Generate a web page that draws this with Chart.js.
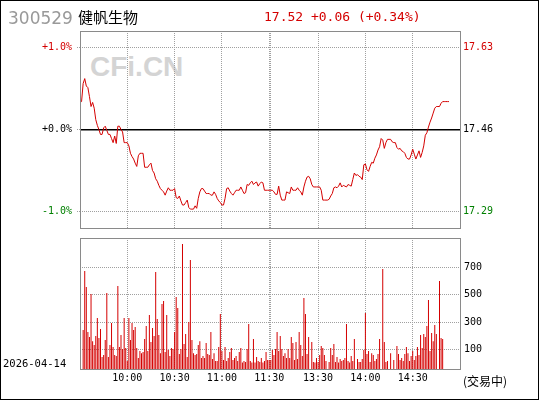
<!DOCTYPE html>
<html>
<head>
<meta charset="utf-8">
<script src="https://cdn.jsdelivr.net/npm/chart.js@4.4.1/dist/chart.umd.min.js"></script>
<style>
  html, body { margin: 0; padding: 0; background: #fff; }
  #wrap { position: relative; width: 540px; height: 400px; overflow: hidden; background: #fff; }
  #frame { position: absolute; left: 0; top: 0; width: 537px; height: 398px; border: 1px solid #000; }
  canvas { position: absolute; left: 0; top: 0; }
  .txt { position: absolute; white-space: nowrap; line-height: 1; }
</style>
</head>
<body>
<div id="wrap">
  <div class="txt" style="left:90px;top:51px;font:bold 28px 'Liberation Sans',Arial,sans-serif;color:#d4d4d4;">CFi.CN</div>
  <canvas id="price-chart" width="540" height="400"></canvas>
  <canvas id="volume-chart" width="540" height="400"></canvas>
  <div id="frame"></div>
  <div class="txt" style="left:8px;top:8px;font:17px 'DejaVu Sans',sans-serif;color:#999;">300529</div>
  <div class="txt" style="left:78px;top:6px;font:15px 'Noto Sans CJK SC',sans-serif;color:#000;">健帆生物</div>
  <div class="txt" style="left:264px;top:9px;font:13px 'DejaVu Sans Mono',monospace;color:#d40000;white-space:pre;">17.52 +0.06 (+0.34%)</div>
  <div class="txt" style="left:3px;top:357px;font:10.5px 'DejaVu Sans Mono',monospace;color:#000;">2026-04-14</div>
  <div class="txt" style="left:463px;top:372px;font:12px 'Noto Sans CJK SC',sans-serif;color:#000;">(交易中)</div>
</div>
<script>
// 昨收 / 刻度
const prevClose = 17.46;
const pctTicks = [-1, 0, 1];
const volTicks = [100, 300, 500, 700];
const volMin = -43;
const volMax = 916;

// 分时: 09:30-11:30, 13:00-15:00
const times = [];
function addSession(h, m, endH, endM) {
    while (h < endH || (h === endH && m <= endM)) {
        times.push(String(h).padStart(2, '0') + ':' + String(m).padStart(2, '0'));
        m++;
        if (m === 60) { m = 0; h++; }
    }
}
addSession(9, 30, 11, 30);
addSession(13, 0, 15, 0);

const gridTimes = ['10:00', '10:30', '11:00', '11:30', '13:00', '13:30', '14:00', '14:30'];
const axisTimes = ['10:00', '10:30', '11:00', '11:30', '13:30', '14:00', '14:30'];

// 涨跌幅 % (每分钟)
const pricePct = [
    0.34, 0.34, 0.56, 0.62, 0.53, 0.51, 0.40, 0.28, 0.33, 0.26,
    0.12, 0.05, 0.00, -0.06, -0.06, 0.02, 0.04, -0.01, -0.06, -0.06,
    -0.11, -0.16, -0.08, -0.17, 0.04, 0.04, 0.00, -0.03, -0.16, -0.16,
    -0.16, -0.20, -0.29, -0.33, -0.36, -0.41, -0.45, -0.32, -0.29, -0.29,
    -0.29, -0.46, -0.46, -0.46, -0.43, -0.41, -0.50, -0.53, -0.60, -0.63,
    -0.68, -0.72, -0.74, -0.76, -0.80, -0.75, -0.71, -0.74, -0.74, -0.74,
    -0.72, -0.83, -0.84, -0.81, -0.87, -0.92, -0.92, -0.89, -0.86, -0.95,
    -0.97, -0.97, -0.97, -0.93, -0.96, -0.84, -0.76, -0.72, -0.72, -0.75,
    -0.78, -0.78, -0.78, -0.80, -0.80, -0.76, -0.79, -0.84, -0.87, -0.89,
    -0.92, -0.92, -0.84, -0.72, -0.71, -0.75, -0.78, -0.80, -0.77, -0.74,
    -0.74, -0.74, -0.70, -0.74, -0.78, -0.77, -0.67, -0.68, -0.65, -0.63,
    -0.67, -0.65, -0.64, -0.69, -0.66, -0.64, -0.65, -0.74, -0.74, -0.74,
    -0.74, -0.74, -0.74, -0.76, -0.79, -0.79, -0.69, -0.80, -0.86, -0.86,
    -0.86, -0.76, -0.77, -0.78, -0.70, -0.74, -0.74, -0.74, -0.71, -0.74,
    -0.76, -0.80, -0.70, -0.63, -0.58, -0.57, -0.60, -0.67, -0.70, -0.70,
    -0.70, -0.70, -0.70, -0.74, -0.86, -0.86, -0.86, -0.86, -0.85, -0.81,
    -0.78, -0.71, -0.70, -0.71, -0.69, -0.65, -0.70, -0.68, -0.69, -0.70,
    -0.67, -0.68, -0.69, -0.61, -0.53, -0.56, -0.55, -0.57, -0.58, -0.61,
    -0.43, -0.42, -0.49, -0.51, -0.45, -0.40, -0.41, -0.35, -0.31, -0.25,
    -0.21, -0.11, -0.13, -0.23, -0.16, -0.12, -0.12, -0.12, -0.15, -0.16,
    -0.16, -0.22, -0.24, -0.23, -0.26, -0.27, -0.29, -0.34, -0.36, -0.36,
    -0.31, -0.24, -0.30, -0.36, -0.31, -0.26, -0.34, -0.28, -0.20, -0.07,
    -0.04, 0.03, 0.09, 0.14, 0.20, 0.26, 0.28, 0.28, 0.28, 0.32,
    0.34, 0.34, 0.34, 0.34, 0.34
];

// 成交量 (手)
const volume = [
    null, null, 242, 674, 557, 227, 191, 506, 161, 132,
    198, 330, 184, 249, 44, 59, 169, 513, 44, 132,
    293, 118, 59, 52, 564, 118, 206, 103, 330, 110,
    15, 330, 169, 293, 242, 264, 110, 37, 88, 73,
    81, 176, 271, 88, 352, 154, 257, 198, 667, 323,
    206, 73, 433, 455, 81, 352, 96, 52, 110, 103,
    227, 484, 403, 66, 103, 872, 140, 213, 44, 301,
    755, 169, 73, 59, 66, 132, 161, 37, 52, 37,
    147, 66, 59, 227, 30, 73, 15, 15, 118, 359,
    88, 22, 118, 15, 37, 81, 110, 22, 37, 52,
    15, 81, 110, 5, 15, 8, 103, 286, 15, 5,
    176, 5, 44, 15, 8, 37, 5, 15, 81, 22,
    22, 22, 96, 59, 103, 227, 88, 198, 103, 52,
    73, 37, 103, 37, 191, 147, 22, 154, 30, 227,
    132, 52, 477, 359, 66, 191, null, 154, 8, 5,
    37, 8, 59, 125, 110, 59, 15, null, 8, 110,
    59, 140, 8, 44, 5, 30, 15, 22, 37, 286,
    15, 5, 52, 15, 176, null, 30, 8, 8, 30,
    96, 367, 66, 88, 8, 73, 59, 15, 30, 66,
    176, null, 689, 154, 8, 15, null, 73, null, 22,
    null, 125, 66, 22, 37, 15, 66, 118, 73, 15,
    52, 88, 22, 52, 118, 59, 206, 110, 213, 191,
    271, 462, 88, 220, 161, 279, 213, null, 601, 184,
    176
];

const RED = '#d40000';
const GREEN = '#008000';
const GRID = '#a0a0a0';
const NONE = 'rgba(0,0,0,0)';

Chart.defaults.font.family = "'DejaVu Sans Mono', monospace";
Chart.defaults.font.size = 10;
Chart.defaults.color = '#000';

const gridIdx = gridTimes.map(t => times.indexOf(t));

function keepGridTicks(scale) {
    scale.ticks = scale.ticks.filter(t => gridIdx.includes(t.value));
}

function pctColor(v) {
    if (v > 0) return RED;
    if (v < 0) return GREEN;
    return '#000';
}

// 灰色面板边框
const framePlugin = {
    id: 'frame',
    afterDraw(chart) {
        const { ctx, chartArea: a } = chart;
        ctx.save();
        ctx.strokeStyle = '#8a8a8a';
        ctx.lineWidth = 1;
        ctx.strokeRect(a.left + 0.5, a.top + 0.5, a.right - a.left, a.bottom - a.top);
        ctx.restore();
    }
};

// 分时价格
new Chart(document.getElementById('price-chart'), {
    type: 'line',
    data: {
        labels: times,
        datasets: [{
            data: pricePct,
            borderColor: RED,
            borderWidth: 1,
            pointRadius: 0,
            tension: 0,
            yAxisID: 'y'
        }]
    },
    options: {
        responsive: false,
        animation: false,
        layout: { padding: { top: 31, left: 0, right: 0, bottom: 0 } },
        plugins: { legend: { display: false }, tooltip: { enabled: false } },
        scales: {
            x: {
                offset: false,
                ticks: { display: false, autoSkip: false },
                grid: { color: GRID, drawTicks: false, offset: false },
                border: { display: false, dash: [1, 1] },
                afterBuildTicks: keepGridTicks,
                afterFit: s => { s.height = 172; }
            },
            y: {
                position: 'left',
                min: -1.2,
                max: 1.2,
                afterBuildTicks: s => { s.ticks = pctTicks.map(v => ({ value: v })); },
                ticks: {
                    padding: 5,
                    color: c => pctColor(c.tick.value),
                    callback: v => (v >= 0 ? '+' : '') + v.toFixed(1) + '%'
                },
                grid: {
                    color: c => (c.tick && c.tick.value === 0) ? NONE : GRID,
                    tickColor: GRID,
                    tickLength: 3,
                    tickBorderDash: [1, 1]
                },
                border: { display: false, dash: [1, 1] },
                afterFit: s => { s.width = 80; }
            },
            y2: {
                position: 'right',
                min: -1.2,
                max: 1.2,
                afterBuildTicks: s => { s.ticks = pctTicks.map(v => ({ value: v })); },
                ticks: {
                    padding: 3,
                    color: c => pctColor(c.tick.value),
                    callback: v => (prevClose * (1 + v / 100)).toFixed(2)
                },
                grid: {
                    drawTicks: false,
                    color: c => (c.tick && c.tick.value === 0) ? '#000' : NONE,
                    lineWidth: 1.5
                },
                border: { display: false },
                afterFit: s => { s.width = 80; }
            }
        }
    },
    plugins: [framePlugin]
});

// 成交量
new Chart(document.getElementById('volume-chart'), {
    type: 'bar',
    data: {
        labels: times,
        datasets: [{
            data: volume,
            backgroundColor: RED,
            barThickness: 1,
            inflateAmount: 0,
            base: volMin
        }]
    },
    options: {
        responsive: false,
        animation: false,
        layout: { padding: { top: 238, left: 80, right: 0, bottom: 0 } },
        plugins: { legend: { display: false }, tooltip: { enabled: false } },
        scales: {
            x: {
                offset: false,
                grid: { color: GRID, drawTicks: false, offset: false },
                border: { display: false, dash: [1, 1] },
                ticks: {
                    autoSkip: false,
                    maxRotation: 0,
                    minRotation: 0,
                    padding: 3,
                    callback: v => axisTimes.includes(times[v]) ? times[v] : ''
                },
                afterBuildTicks: keepGridTicks,
                afterFit: s => { s.height = 31; }
            },
            y: {
                position: 'right',
                min: volMin,
                max: volMax,
                afterBuildTicks: s => { s.ticks = volTicks.map(v => ({ value: v })); },
                ticks: { padding: 4, color: '#000' },
                grid: { color: GRID, drawTicks: false },
                border: { display: false, dash: [1, 1] },
                afterFit: s => { s.width = 80; }
            }
        }
    },
    plugins: [framePlugin]
});
</script>
</body>
</html>
